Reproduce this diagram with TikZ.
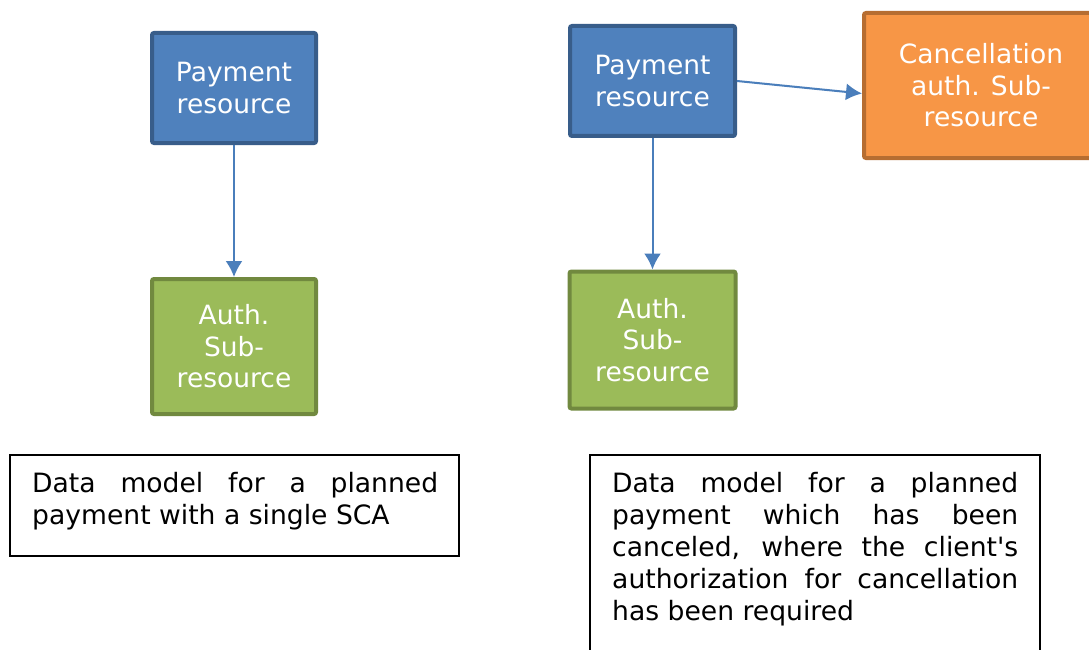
\documentclass[tikz,border=0pt]{standalone}
\usepackage{fontspec}
\setmainfont{DejaVu Sans}[Ligatures=TeXOff]
\usetikzlibrary{arrows.meta}
\definecolor{bfill}{HTML}{4F81BD}
\definecolor{bline}{HTML}{385D8A}
\definecolor{gfill}{HTML}{9BBB59}
\definecolor{gline}{HTML}{71893F}
\definecolor{ofill}{HTML}{F79646}
\definecolor{oline}{HTML}{B66D31}
\definecolor{arr}{HTML}{4A7EBB}
\tikzset{
  x=1pt, y=-1pt,
  box/.style={draw, line width=4pt, rounded corners=2pt, text=white, align=center,
    font=\fontsize{26.5}{31.5}\selectfont, inner sep=0pt},
  paybox/.style={box, fill=bfill, draw=bline},
  authbox/.style={box, fill=gfill, draw=gline},
  cancbox/.style={box, fill=ofill, draw=oline},
  conn/.style={draw=arr, line width=2pt, -{Latex[length=16pt,width=17pt]}},
  framebox/.style={draw=black, line width=1.5pt, inner sep=0pt},
  desc/.style={align=left, inner sep=0pt, anchor=north west, font=\fontsize{26.6}{32}\selectfont}
}
\begin{document}
\begin{tikzpicture}
\useasboundingbox (0,0) rectangle (1089,650);
\fill[white] (0,0) rectangle (1089,650);

% left diagram
\node[paybox, minimum width=164pt, minimum height=110pt] (lp) at (234,88) {Payment\\resource};
\node[authbox, minimum width=164pt, minimum height=135pt] (la) at (234,346.5) {Auth.\\Sub-\\resource};
\draw[conn] (lp.south) -- (la.north);

\node[framebox, minimum width=449pt, minimum height=101pt] (lbox) at (234.5,505.5) {};
\node[desc] (ltext) at (32,472) {\makebox[406pt][s]{Data model for a planned}\\payment with a single SCA};

% right diagram
\node[paybox, minimum width=165pt, minimum height=110pt] (rp) at (652.5,81) {Payment\\resource};
\node[authbox, minimum width=166pt, minimum height=137pt] (ra) at (652.5,340) {Auth.\\Sub-\\resource};
\node[cancbox, minimum width=234pt, minimum height=145pt] (cc) at (981,85.5) {Cancellation\\auth. Sub-\\resource};
\draw[conn] (rp.south) -- (ra.north);
\draw[conn] (rp.east) -- ([yshift=-8pt]cc.west);

\node[framebox, minimum width=450pt, minimum height=220pt] (rbox) at (815,565) {};
\node[desc] (rtext) at (612,472) {\makebox[406pt][s]{Data model for a planned}\\
\makebox[406pt][s]{payment which has been}\\
\makebox[406pt][s]{canceled, where the client's}\\
\makebox[406pt][s]{authorization for cancellation}\\
has been required};
\end{tikzpicture}
\end{document}
